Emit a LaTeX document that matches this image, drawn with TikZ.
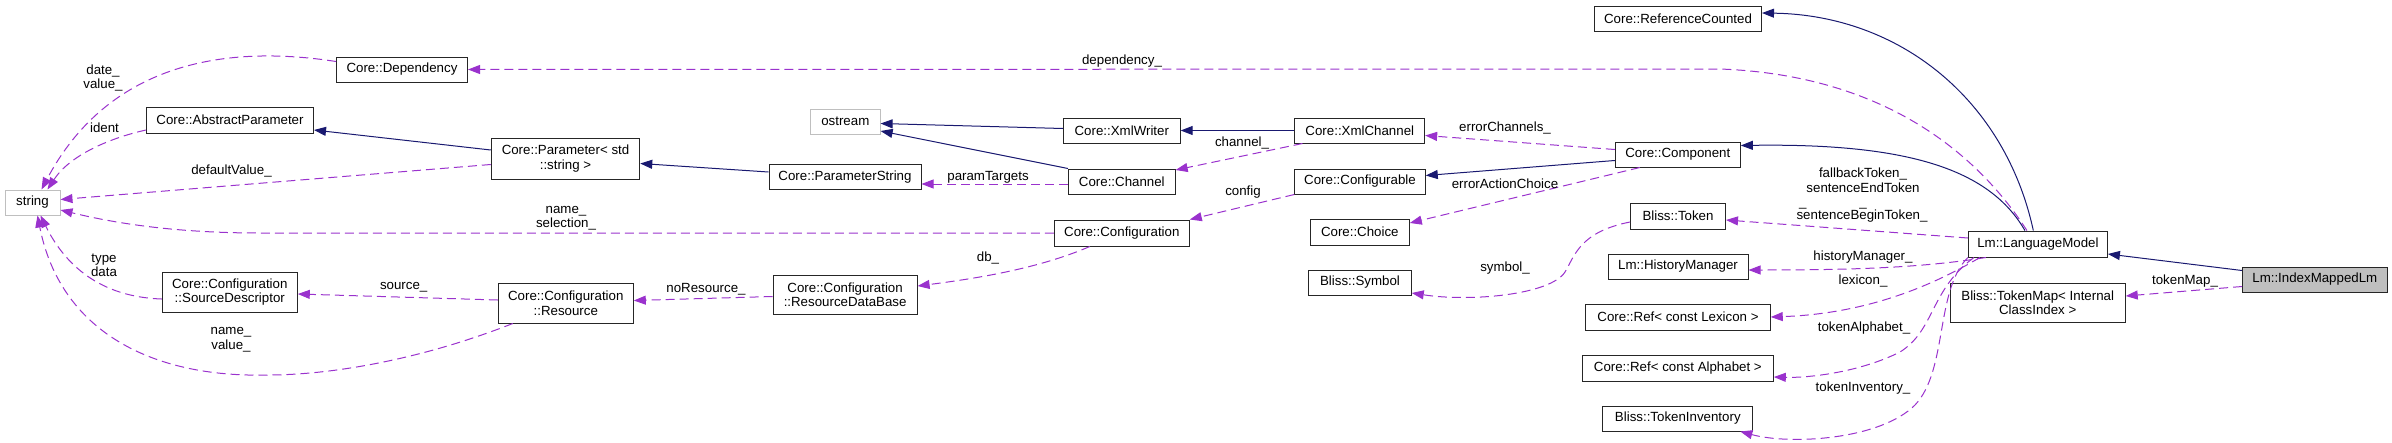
\documentclass[tikz,border=0pt]{standalone}
\usepackage{fontspec}
\setmainfont{Liberation Sans}
\usetikzlibrary{arrows.meta,calc}
\definecolor{inhcol}{HTML}{191970}
\definecolor{usecol}{HTML}{9A32CD}
\definecolor{grayb}{HTML}{BFBFBF}
\begin{document}
\begin{tikzpicture}[x=1pt,y=-1pt,
  every node/.style={font=\fontsize{13.3}{14.5}\selectfont, inner sep=0pt, align=center},
  cls/.style={draw=black!85, line width=1pt, rectangle, fill=white},
  ext/.style={draw=grayb, line width=1pt, rectangle, fill=white},
  inh/.style={draw=inhcol, line width=1pt, -{Triangle[length=12pt,width=9pt]}},
  use/.style={draw=usecol, line width=1pt, dash pattern=on 9pt off 5pt, -{Triangle[length=12pt,width=9pt]}},
  lbl/.style={text=black}]
\useasboundingbox (0,0) rectangle (2392,442);
% nodes
\node[ext, minimum width=55pt, minimum height=25pt] (str) at (32.5,202.5) {string};
\node[cls, minimum width=131pt, minimum height=25pt] (dep) at (402,69.5) {Core::Dependency};
\node[cls, minimum width=167pt, minimum height=26pt] (absp) at (230,120) {Core::AbstractParameter};
\node[cls, minimum width=148.5pt, minimum height=41pt] (par) at (565.5,158.5) {Core::Parameter< std\\::string >};
\node[cls, minimum width=135pt, minimum height=40pt] (srcd) at (229.8,292) {Core::Configuration\\::SourceDescriptor};
\node[cls, minimum width=135pt, minimum height=40pt] (res) at (565.8,303) {Core::Configuration\\::Resource};
\node[ext, minimum width=69.6pt, minimum height=25pt] (ost) at (845.3,121.5) {ostream};
\node[cls, minimum width=116.7pt, minimum height=25pt] (xmlw) at (1121.8,130.5) {Core::XmlWriter};
\node[cls, minimum width=152pt, minimum height=25pt] (pstr) at (845,177) {Core::ParameterString};
\node[cls, minimum width=106.7pt, minimum height=25pt] (chan) at (1121.8,181.5) {Core::Channel};
\node[cls, minimum width=135pt, minimum height=26pt] (conf) at (1121.8,233) {Core::Configuration};
\node[cls, minimum width=144pt, minimum height=39pt] (rdb) at (845.1,294.5) {Core::Configuration\\::ResourceDataBase};
\node[cls, minimum width=167pt, minimum height=25pt] (refc) at (1678,18.5) {Core::ReferenceCounted};
\node[cls, minimum width=129.7pt, minimum height=25pt] (xmlc) at (1359.8,130.5) {Core::XmlChannel};
\node[cls, minimum width=125pt, minimum height=25pt] (comp) at (1677.8,154.5) {Core::Component};
\node[cls, minimum width=130.5pt, minimum height=25pt] (cfgb) at (1360,181.5) {Core::Configurable};
\node[cls, minimum width=99pt, minimum height=26pt] (choi) at (1359.8,232) {Core::Choice};
\node[cls, minimum width=95pt, minimum height=26pt] (tok) at (1678,216) {Bliss::Token};
\node[cls, minimum width=102.5pt, minimum height=25pt] (sym) at (1360,282.5) {Bliss::Symbol};
\node[cls, minimum width=140pt, minimum height=25pt] (hist) at (1678,266.5) {Lm::HistoryManager};
\node[cls, minimum width=184.5pt, minimum height=26pt] (lex) at (1678,317) {Core::Ref< const Lexicon >};
\node[cls, minimum width=191pt, minimum height=26pt] (alph) at (1677.8,368) {Core::Ref< const Alphabet >};
\node[cls, minimum width=150pt, minimum height=25pt] (tinv) at (1677.8,418.5) {Bliss::TokenInventory};
\node[cls, minimum width=139pt, minimum height=26pt] (lm) at (2037.9,244) {Lm::LanguageModel};
\node[cls, fill=grayb, minimum width=144.6pt, minimum height=25pt] (imlm) at (2314.8,279.5) {Lm::IndexMappedLm};
\node[cls, minimum width=175pt, minimum height=39pt] (tmap) at (2037.7,302.5) {Bliss::TokenMap< Internal\\ClassIndex >};
% inheritance
\draw[inh] ($(imlm.west)+(0,-9)$) -- ($(lm.east)+(0,10)$);
\draw[inh] ($(lm.north)+(-4.6,0)$) .. controls (2005,100) and (1900,15) .. ($(refc.east)+(0,-5.5)$);
\draw[inh] ($(lm.north)+(-13,0)$) .. controls (1990,170) and (1910,143) .. ($(comp.east)+(0,-9)$);
\draw[inh] ($(comp.west)+(0,6)$) -- ($(cfgb.east)+(0,-6)$);
\draw[inh] (xmlc.west) -- (xmlw.east);
\draw[inh] ($(xmlw.west)+(0,-2)$) -- ($(ost.east)+(0,2)$);
\draw[inh] (chan.north west) -- ($(ost.east)+(0,9.5)$);
\draw[inh] ($(pstr.west)+(0,-5)$) -- ($(par.east)+(0,5)$);
\draw[inh] ($(par.west)+(0,-8.5)$) -- ($(absp.east)+(0,10)$);
% usage
\draw[use] ($(lm.north)+(-11,0)$) .. controls (1975,150) and (1880,75) .. (1720,69) -- (dep.east);
\node[lbl] (ldep) at (1122,61) {dependency\_};
\draw[use] ($(dep.west)+(0,-8)$) .. controls (230,45) and (110,60) .. ($(str.north)+(9,0)$);
\node[lbl] (ldv) at (103,78) {date\_\\value\_};
\draw[use] ($(absp.west)+(0,10)$) .. controls (110,138) and (70,155) .. ($(str.north)+(15,0)$);
\node[lbl] (lid) at (104.5,128) {ident};
\draw[use] ($(par.west)+(0,6)$) -- ($(str.east)+(0,-3)$);
\node[lbl] (ldef) at (231.5,171) {defaultValue\_};
\draw[use] (conf.west) -- (260,233) .. controls (170,233) and (110,222) .. ($(str.east)+(0,7.5)$);
\node[lbl] (lns) at (566,218) {name\_\\selection\_};
\draw[use] ($(srcd.west)+(0,7)$) .. controls (100,297) and (65,265) .. ($(str.south)+(8,0)$);
\node[lbl] (ltd) at (104,265.5) {type\\data};
\draw[use] ($(res.south)+(-53,0)$) .. controls (420,360) and (330,375) .. (268,375) .. controls (150,378) and (60,330) .. ($(str.south)+(5,0)$);
\node[lbl] (lnv) at (231,339.5) {name\_\\value\_};
\draw[use] ($(res.west)+(0,-3)$) -- ($(srcd.east)+(0,2)$);
\node[lbl] (lsrc) at (403.7,287) {source\_};
\draw[use] ($(rdb.west)+(0,2)$) -- ($(res.east)+(0,-2.5)$);
\node[lbl] (lnor) at (706,289) {noResource\_};
\draw[use] ($(conf.south)+(-32,0)$) .. controls (1040,268) and (980,278) .. ($(rdb.east)+(0,-8.5)$);
\node[lbl] (ldb) at (988,258) {db\_};
\draw[use] ($(chan.west)+(0,2.5)$) -- ($(pstr.east)+(0,7)$);
\node[lbl] (lpt) at (988,177) {paramTargets};
\draw[use] ($(xmlc.south west)+(8,0)$) -- ($(chan.east)+(0,-11.5)$);
\node[lbl] (lch) at (1242,143) {channel\_};
\draw[use] (cfgb.south west) -- (conf.north east);
\node[lbl] (lcfg) at (1243,192) {config};
\draw[use] ($(comp.west)+(0,-5)$) -- ($(xmlc.east)+(0,5)$);
\node[lbl] (lec) at (1505,128) {errorChannels\_};
\draw[use] ($(comp.south)+(-38,0)$) -- ($(choi.east)+(0,-9)$);
\node[lbl] (leac) at (1505,184) {errorActionChoice};
\draw[use] ($(tok.west)+(0,6)$) .. controls (1580,232) and (1575,255) .. (1565,272) .. controls (1550,295) and (1470,302) .. ($(sym.east)+(0,10.5)$);
\node[lbl] (lsym) at (1505,268) {symbol\_};
\draw[use] ($(lm.west)+(0,-6)$) -- ($(tok.east)+(0,4)$);
\node[lbl] (ltok1) at (1863,180) {fallbackToken\_\\sentenceEndToken};
\node[lbl] (ltok2) at (1833,208) {\_\hspace{52.8pt}\_};
\node[lbl] (ltok3) at (1862,216.5) {sentenceBeginToken\_};
\draw[use] ($(lm.south west)+(18,0)$) .. controls (1920,268) and (1850,270) .. ($(hist.east)+(0,3.5)$);
\node[lbl] (lhm) at (1863,257) {historyManager\_};
\draw[use] ($(lm.south west)+(12,0)$) .. controls (1925,290) and (1860,314) .. (lex.east);
\node[lbl] (llex) at (1863,281) {lexicon\_};
\draw[use] ($(lm.south west)+(6,0)$) .. controls (1930,290) and (1935,330) .. (1900,352) .. controls (1860,372) and (1810,378) .. ($(alph.east)+(0,9)$);
\node[lbl] (lalph) at (1864,328) {tokenAlphabet\_};
\draw[use] ($(lm.south west)+(0,0)$) .. controls (1935,290) and (1948,370) .. (1915,405) .. controls (1880,440) and (1790,445) .. ($(tinv.south east)+(-13,0)$);
\node[lbl] (linv) at (1863,388) {tokenInventory\_};
\draw[use] ($(imlm.west)+(0,7)$) -- ($(tmap.east)+(0,-6.5)$);
\node[lbl] (ltm) at (2185,281) {tokenMap\_};
\end{tikzpicture}
\end{document}
